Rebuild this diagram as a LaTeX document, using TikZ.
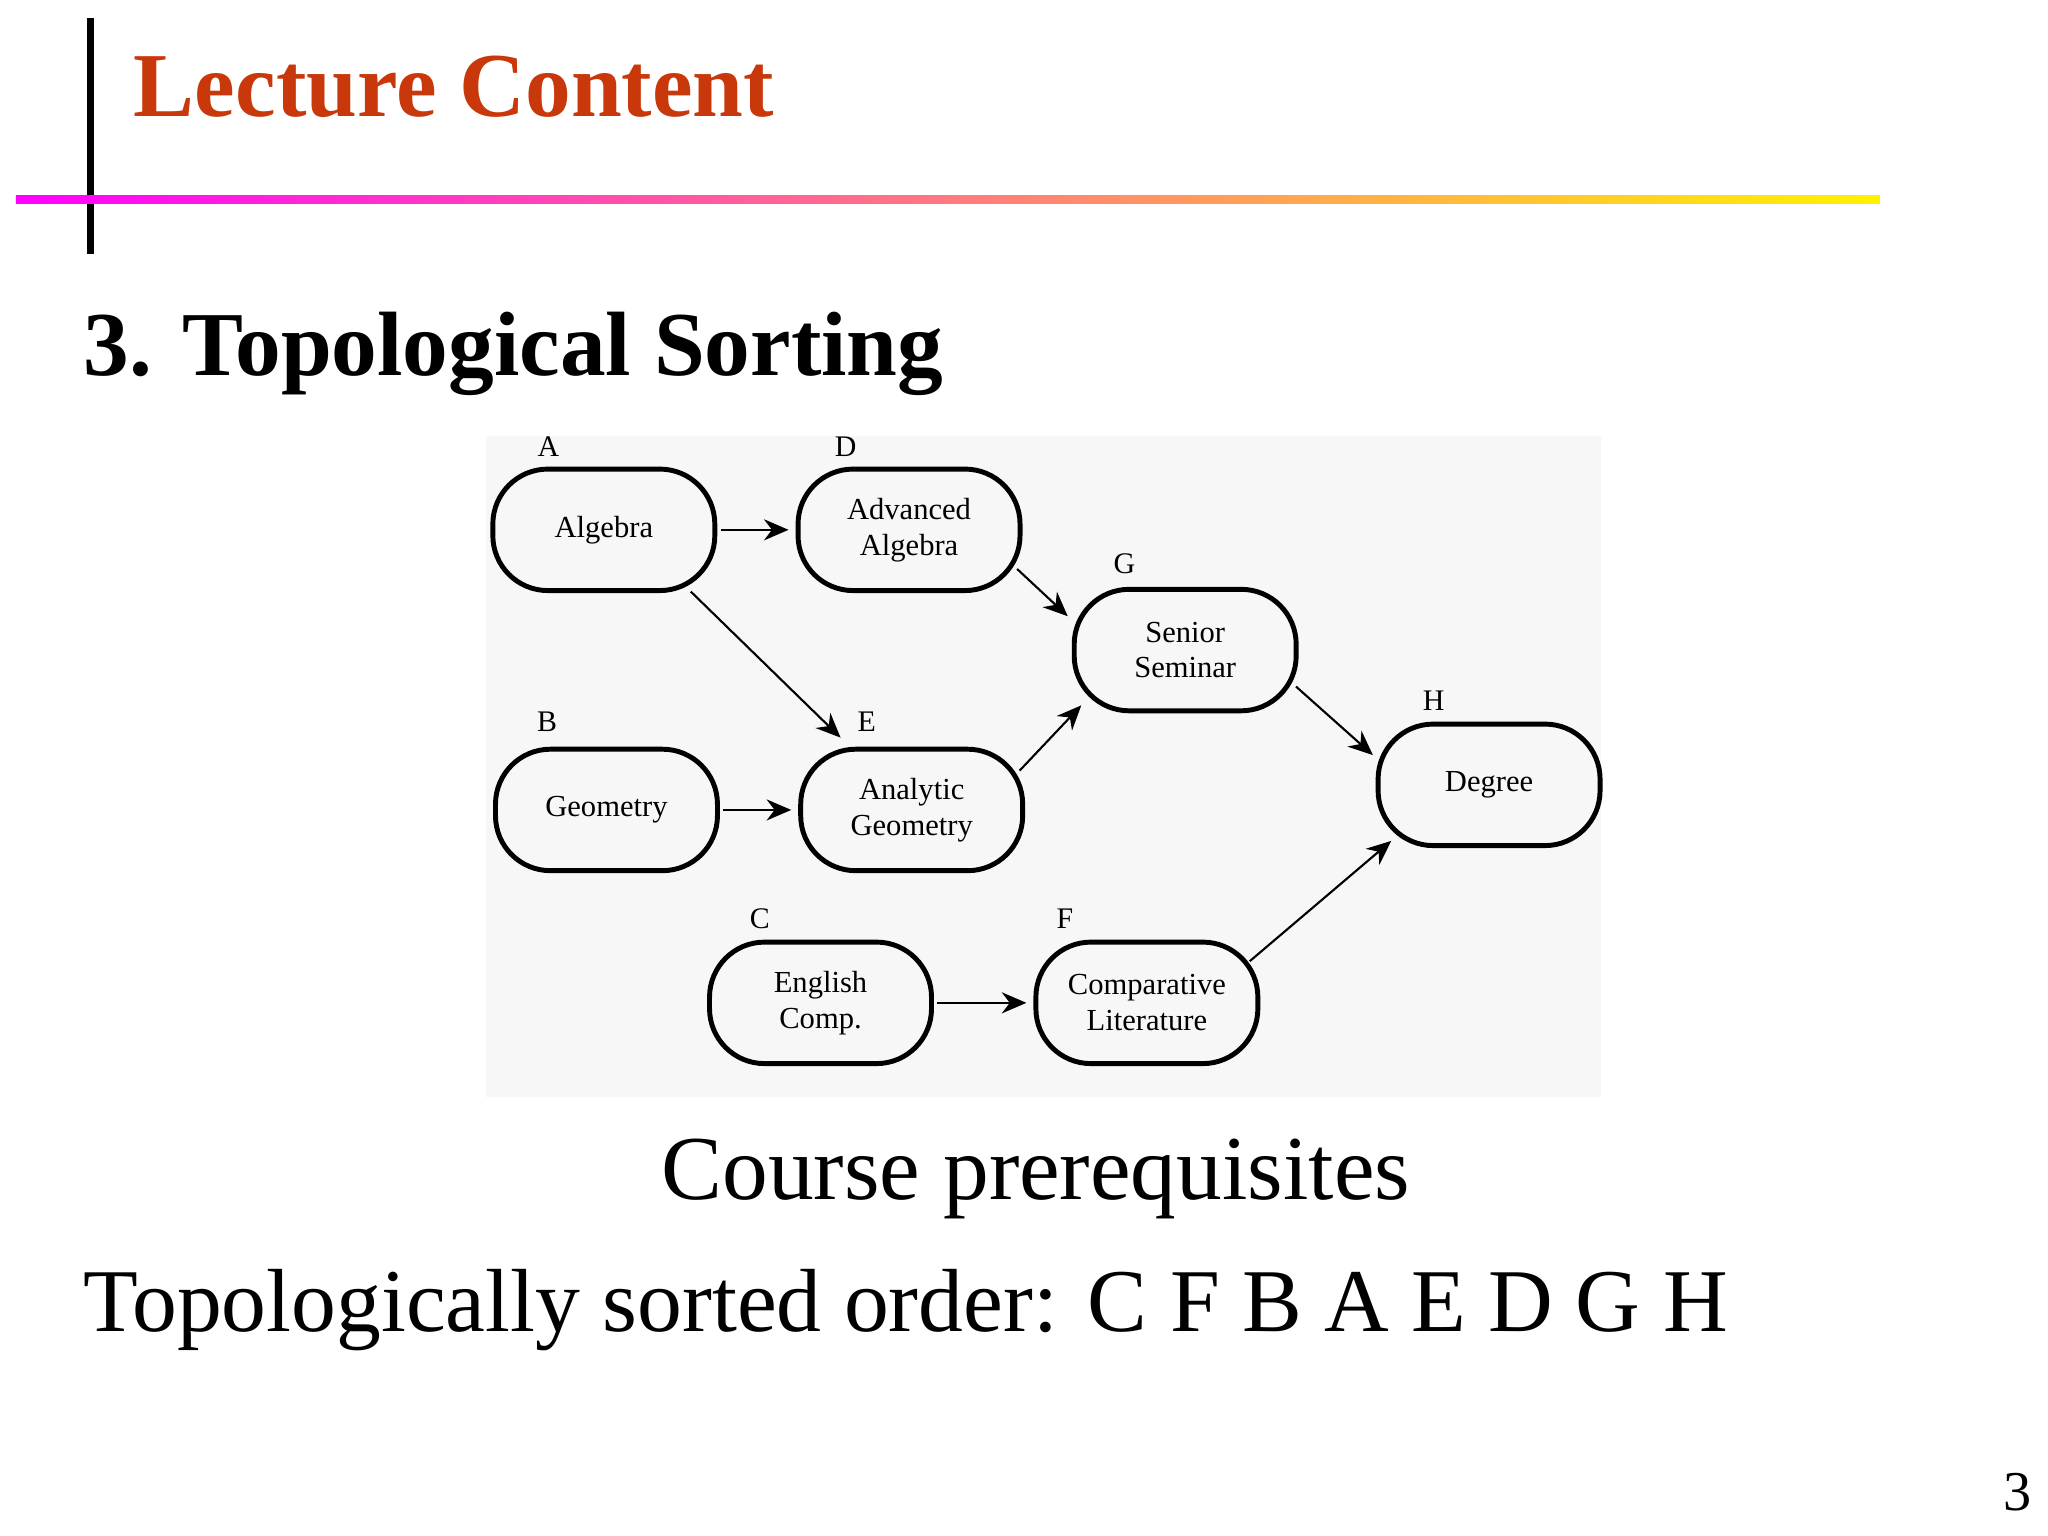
\documentclass[tikz,border=0pt]{standalone}
\usepackage{fontspec}
\setmainfont{Liberation Serif}
\usetikzlibrary{arrows.meta}
\definecolor{titlered}{HTML}{C8380A}
\tikzset{
  course/.style={draw, line width=1.4pt, minimum width=2.22cm, minimum height=1.215cm, align=center, font=\fontsize{8.7}{10.2}\selectfont, rounded corners=0.55cm},
  lab/.style={font=\fontsize{8.5}{10}\selectfont},
  arr/.style={-{Stealth[length=7pt,width=6pt]}, line width=0.6pt, shorten >=2pt, shorten <=1pt}
}
\begin{document}
\begin{tikzpicture}[x=0.01321cm,y=-0.01321cm]
\useasboundingbox (0,0) rectangle (1550,1162);
\fill[black] (66,14) rectangle (71,192);
\shade[left color=magenta, right color=yellow!90!orange] (12,148) rectangle (1423,154);
\node[anchor=base west, text=titlered, font=\fontsize{26}{30}\selectfont\bfseries] (t) at (92,88) {Lecture Content};
\node[anchor=base west, font=\fontsize{26}{30}\selectfont\bfseries] (s) at (54,284) {3. Topological Sorting};
\fill[black!3] (368,330) rectangle (1212,830);
\node[course] (A) at (457,401) {Algebra};
\node[course] (D) at (688,401) {Advanced\\Algebra};
\node[course] (G) at (897,492) {Senior\\Seminar};
\node[course] (B) at (459,613) {Geometry};
\node[course] (E) at (690,613) {Analytic\\Geometry};
\node[course] (H) at (1127,594) {Degree};
\node[course] (C) at (621,759) {English\\Comp.};
\node[course] (F) at (868,759) {Comparative\\Literature};
\node[lab] (la) at (415,338) {A};
\node[lab] (ld) at (640,338) {D};
\node[lab] (lg) at (851,427) {G};
\node[lab] (lb) at (414,546) {B};
\node[lab] (le) at (656,546) {E};
\node[lab] (lh) at (1085,530) {H};
\node[lab] (lc) at (575,695) {C};
\node[lab] (lf) at (806,695) {F};
\draw[arr] (A.east) -- (D.west);
\draw[arr] (A.south east) ++(-22,-3) coordinate (a1) (a1) -- (640,562);
\draw[arr] (D.south east) ++(-6,-20) -- (812,470);
\draw[arr] (E.north east) ++(-6,20) -- (822,530);
\draw[arr] (G.south east) ++(-4,-22) -- (1043,575);
\draw[arr] (B.east) -- (E.west);
\draw[arr] (C.east) -- (F.west);
\draw[arr] (F.north east) ++(-10,18) -- (1057,633);
\node[anchor=base, font=\fontsize{26}{30}\selectfont] (cp) at (784,908) {Course prerequisites};
\node[anchor=base west, font=\fontsize{25.5}{30}\selectfont] (ts) at (54,1008) {Topologically sorted order: C F B A E D G H};
\node[anchor=base, font=\fontsize{16}{18}\selectfont] (pn) at (1527,1143) {3};
\end{tikzpicture}
\end{document}
